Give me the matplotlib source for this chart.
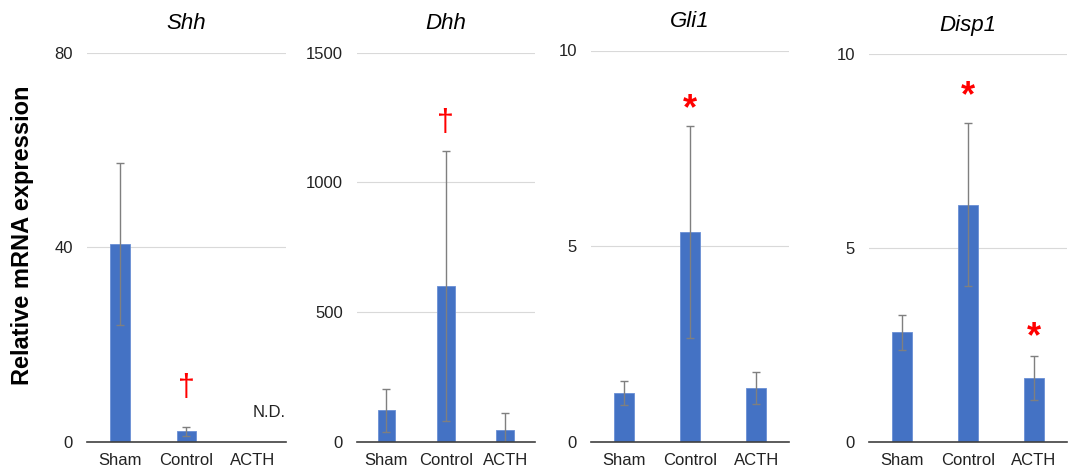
import numpy as np
import matplotlib
matplotlib.use("Agg")
import matplotlib.pyplot as plt

plt.rcParams['font.family'] = ['Liberation Sans', 'DejaVu Sans']

groups = ['Sham', 'Control', 'ACTH']
genes = ['Shh', 'Dhh', 'Gli1', 'Disp1']

# mean and error
shh_mean = [40.6, 2.1, 0.0]
shh_err = [16.7, 0.9, 0.0]
dhh_mean = [122, 600, 45]
dhh_err = [83, 520, 67]
gli1_mean = [1.24, 5.36, 1.37]
gli1_err = [0.30, 2.70, 0.40]
disp1_mean = [2.83, 6.12, 1.66]
disp1_err = [0.46, 2.10, 0.57]

means = [shh_mean, dhh_mean, gli1_mean, disp1_mean]
errs = [shh_err, dhh_err, gli1_err, disp1_err]
ymax = [80, 1500, 10, 10]
yticks = [[0, 40, 80], [0, 500, 1000, 1500], [0, 5, 10], [0, 5, 10]]

# significance marks: (panel, group, y, symbol)
marks = [(0, 1, 11, '†'), (1, 1, 1230, '†'),
         (2, 1, 8.5, '*'), (3, 1, 8.9, '*'), (3, 2, 2.7, '*')]

# axes positions in pixels: left, right, top, bottom
W, H = 1072, 471
boxes = [(87, 286, 52.7, 441.7), (356.7, 535, 52.7, 441.7),
         (591, 789.3, 50.5, 441.7), (869, 1066.7, 54.3, 442.3)]

fig = plt.figure(figsize=(W / 100, H / 100), dpi=100)
x = np.arange(len(groups))
axes = []
for i, g in enumerate(genes):
    l, r, t, b = boxes[i]
    ax = fig.add_axes([l / W, 1 - b / H, (r - l) / W, (b - t) / H])
    axes.append(ax)
    m = np.array(means[i])
    e = np.array(errs[i])
    show = m > 0
    ax.bar(x[show], m[show], width=0.3, color='#4472C4', edgecolor='#6a8fd4', linewidth=0.6, zorder=3)
    ax.errorbar(x[show], m[show], yerr=e[show], fmt='none', ecolor='#7f7f7f',
                elinewidth=1, capsize=3, capthick=1, zorder=4)
    ax.set_xlim(-0.5, 2.5)
    ax.set_ylim(0, ymax[i])
    ax.set_yticks(yticks[i])
    ax.set_xticks(x)
    ax.set_xticklabels(groups)
    ax.tick_params(axis='both', length=0, labelsize=12, colors='#222222')
    ax.tick_params(axis='x', pad=8)
    ax.tick_params(axis='y', pad=10)
    ax.grid(axis='y', color='#d9d9d9', linewidth=0.8, zorder=0)
    for s in ['top', 'right', 'left']:
        ax.spines[s].set_visible(False)
    ax.spines['bottom'].set_color('#404040')
    ax.spines['bottom'].set_linewidth(1.2)
    ax.spines['bottom'].set_zorder(5)
    ax.set_title(g, style='italic', fontsize=16, pad=17)

for p, gi, y, sym in marks:
    if sym == '†':
        axes[p].text(gi, y, sym, color='red', fontsize=22, ha='center', va='center')
    else:
        axes[p].text(gi, y, sym, color='red', fontsize=26, fontweight='bold', ha='center', va='center')

axes[0].text(2.5, 6, 'N.D.', fontsize=12, ha='right', va='center', color='#222222')

fig.text(0.021, 0.5, 'Relative mRNA expression', rotation=90, fontsize=17,
         fontweight='bold', ha='center', va='center')

fig.savefig('out.png', dpi=100)
